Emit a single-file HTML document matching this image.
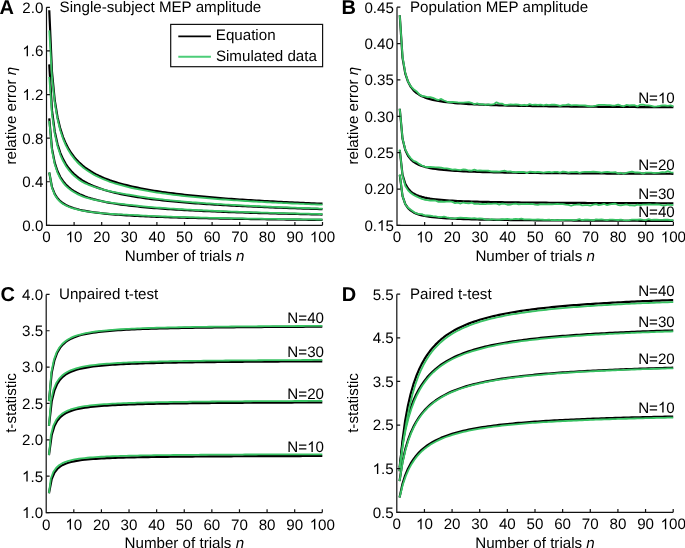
<!DOCTYPE html>
<html><head><meta charset="utf-8"><style>
html,body{margin:0;padding:0;background:#fff;}
body{width:685px;height:548px;position:relative;overflow:hidden;font-family:"Liberation Sans", sans-serif;}
</style></head><body>
<svg width="685" height="548" viewBox="0 0 685 548" style="position:absolute;left:0;top:0;will-change:transform" font-family='"Liberation Sans", sans-serif' font-size="15.15" fill="#000" text-rendering="geometricPrecision">
<defs><path id="one" d="M763,0 L583,0 L583,1147 Q518,1085 412,1023 Q306,961 222,930 L222,1104 Q381,1179 492,1280 Q603,1381 641,1466 L763,1466 Z"/></defs>
<rect width="685" height="548" fill="#fff"/>
<path d="M49.26,10.29 L52.02,72.43 L54.78,100.49 L57.54,117.22 L60.3,128.64 L63.06,137.06 L65.82,143.61 L68.58,148.89 L71.34,153.26 L74.1,156.96 L76.86,160.15 L79.62,162.92 L82.38,165.37 L85.14,167.55 L87.9,169.51 L90.66,171.29 L93.42,172.9 L96.18,174.38 L98.94,175.74 L101.7,176.99 L104.46,178.16 L107.22,179.24 L109.98,180.26 L112.74,181.21 L115.5,182.1 L118.26,182.94 L121.02,183.73 L123.78,184.48 L126.54,185.19 L129.3,185.87 L132.06,186.51 L134.82,187.12 L137.58,187.7 L140.34,188.26 L143.1,188.8 L145.86,189.31 L148.62,189.8 L151.38,190.27 L154.14,190.72 L156.9,191.16 L159.66,191.58 L162.42,191.98 L165.18,192.37 L167.94,192.75 L170.7,193.11 L173.46,193.46 L176.22,193.81 L178.98,194.14 L181.74,194.46 L184.5,194.77 L187.26,195.07 L190.02,195.36 L192.78,195.64 L195.54,195.92 L198.3,196.19 L201.06,196.45 L203.82,196.71 L206.58,196.95 L209.34,197.2 L212.1,197.43 L214.86,197.66 L217.62,197.89 L220.38,198.1 L223.14,198.32 L225.9,198.53 L228.66,198.73 L231.42,198.93 L234.18,199.13 L236.94,199.32 L239.7,199.5 L242.46,199.69 L245.22,199.86 L247.98,200.04 L250.74,200.21 L253.5,200.38 L256.26,200.54 L259.02,200.71 L261.78,200.86 L264.54,201.02 L267.3,201.17 L270.06,201.32 L272.82,201.47 L275.58,201.61 L278.34,201.75 L281.1,201.89 L283.86,202.03 L286.62,202.16 L289.38,202.3 L292.14,202.43 L294.9,202.55 L297.66,202.68 L300.42,202.8 L303.18,202.93 L305.94,203.04 L308.7,203.16 L311.46,203.28 L314.22,203.39 L316.98,203.5 L319.74,203.62 L322.5,203.72" fill="none" stroke="#000" stroke-width="2.2" stroke-linejoin="round" stroke-linecap="butt"/>
<path d="M49.26,64.36 L52.02,110.66 L54.78,131.71 L57.54,144.25 L60.3,152.82 L63.06,159.14 L65.82,164.05 L68.58,168.01 L71.34,171.29 L74.1,174.06 L76.86,176.45 L79.62,178.53 L82.38,180.37 L85.14,182 L87.9,183.47 L90.66,184.8 L93.42,186.01 L96.18,187.12 L98.94,188.14 L101.7,189.08 L104.46,189.96 L107.22,190.77 L109.98,191.53 L112.74,192.24 L115.5,192.91 L118.26,193.54 L121.02,194.14 L123.78,194.7 L126.54,195.23 L129.3,195.74 L132.06,196.22 L134.82,196.68 L137.58,197.12 L140.34,197.53 L143.1,197.93 L145.86,198.32 L148.62,198.69 L151.38,199.04 L154.14,199.38 L156.9,199.71 L159.66,200.02 L162.42,200.32 L165.18,200.62 L167.94,200.9 L170.7,201.17 L173.46,201.44 L176.22,201.69 L178.98,201.94 L181.74,202.18 L184.5,202.41 L187.26,202.64 L190.02,202.86 L192.78,203.07 L195.54,203.28 L198.3,203.48 L201.06,203.68 L203.82,203.87 L206.58,204.05 L209.34,204.23 L212.1,204.41 L214.86,204.58 L217.62,204.75 L220.38,204.92 L223.14,205.08 L225.9,205.23 L228.66,205.39 L231.42,205.54 L234.18,205.68 L236.94,205.82 L239.7,205.96 L242.46,206.1 L245.22,206.24 L247.98,206.37 L250.74,206.5 L253.5,206.62 L256.26,206.75 L259.02,206.87 L261.78,206.99 L264.54,207.1 L267.3,207.22 L270.06,207.33 L272.82,207.44 L275.58,207.55 L278.34,207.65 L281.1,207.76 L283.86,207.86 L286.62,207.96 L289.38,208.06 L292.14,208.16 L294.9,208.25 L297.66,208.35 L300.42,208.44 L303.18,208.53 L305.94,208.62 L308.7,208.71 L311.46,208.8 L314.22,208.88 L316.98,208.97 L319.74,209.05 L322.5,209.13" fill="none" stroke="#000" stroke-width="2.2" stroke-linejoin="round" stroke-linecap="butt"/>
<path d="M49.26,118.42 L52.02,148.89 L54.78,162.92 L57.54,171.29 L60.3,176.99 L63.06,181.21 L65.82,184.48 L68.58,187.12 L71.34,189.31 L74.1,191.16 L76.86,192.75 L79.62,194.14 L82.38,195.36 L85.14,196.45 L87.9,197.43 L90.66,198.32 L93.42,199.13 L96.18,199.86 L98.94,200.54 L101.7,201.17 L104.46,201.75 L107.22,202.3 L109.98,202.8 L112.74,203.28 L115.5,203.72 L118.26,204.14 L121.02,204.54 L123.78,204.92 L126.54,205.27 L129.3,205.61 L132.06,205.93 L134.82,206.24 L137.58,206.53 L140.34,206.81 L143.1,207.07 L145.86,207.33 L148.62,207.57 L151.38,207.81 L154.14,208.04 L156.9,208.25 L159.66,208.46 L162.42,208.67 L165.18,208.86 L167.94,209.05 L170.7,209.23 L173.46,209.41 L176.22,209.58 L178.98,209.74 L181.74,209.9 L184.5,210.06 L187.26,210.21 L190.02,210.36 L192.78,210.5 L195.54,210.64 L198.3,210.77 L201.06,210.9 L203.82,211.03 L206.58,211.15 L209.34,211.27 L212.1,211.39 L214.86,211.51 L217.62,211.62 L220.38,211.73 L223.14,211.83 L225.9,211.94 L228.66,212.04 L231.42,212.14 L234.18,212.24 L236.94,212.33 L239.7,212.43 L242.46,212.52 L245.22,212.61 L247.98,212.69 L250.74,212.78 L253.5,212.86 L256.26,212.95 L259.02,213.03 L261.78,213.11 L264.54,213.18 L267.3,213.26 L270.06,213.34 L272.82,213.41 L275.58,213.48 L278.34,213.55 L281.1,213.62 L283.86,213.69 L286.62,213.76 L289.38,213.82 L292.14,213.89 L294.9,213.95 L297.66,214.02 L300.42,214.08 L303.18,214.14 L305.94,214.2 L308.7,214.26 L311.46,214.31 L314.22,214.37 L316.98,214.43 L319.74,214.48 L322.5,214.54" fill="none" stroke="#000" stroke-width="2.2" stroke-linejoin="round" stroke-linecap="butt"/>
<path d="M49.26,172.49 L52.02,187.12 L54.78,194.14 L57.54,198.32 L60.3,201.17 L63.06,203.28 L65.82,204.92 L68.58,206.24 L71.34,207.33 L74.1,208.25 L76.86,209.05 L79.62,209.74 L82.38,210.36 L85.14,210.9 L87.9,211.39 L90.66,211.83 L93.42,212.24 L96.18,212.61 L98.94,212.95 L101.7,213.26 L104.46,213.55 L107.22,213.82 L109.98,214.08 L112.74,214.31 L115.5,214.54 L118.26,214.75 L121.02,214.95 L123.78,215.13 L126.54,215.31 L129.3,215.48 L132.06,215.64 L134.82,215.79 L137.58,215.94 L140.34,216.08 L143.1,216.21 L145.86,216.34 L148.62,216.46 L151.38,216.58 L154.14,216.69 L156.9,216.8 L159.66,216.91 L162.42,217.01 L165.18,217.11 L167.94,217.2 L170.7,217.29 L173.46,217.38 L176.22,217.46 L178.98,217.55 L181.74,217.63 L184.5,217.7 L187.26,217.78 L190.02,217.85 L192.78,217.92 L195.54,217.99 L198.3,218.06 L201.06,218.13 L203.82,218.19 L206.58,218.25 L209.34,218.31 L212.1,218.37 L214.86,218.43 L217.62,218.48 L220.38,218.54 L223.14,218.59 L225.9,218.64 L228.66,218.7 L231.42,218.75 L234.18,218.79 L236.94,218.84 L239.7,218.89 L242.46,218.93 L245.22,218.98 L247.98,219.02 L250.74,219.07 L253.5,219.11 L256.26,219.15 L259.02,219.19 L261.78,219.23 L264.54,219.27 L267.3,219.31 L270.06,219.34 L272.82,219.38 L275.58,219.42 L278.34,219.45 L281.1,219.49 L283.86,219.52 L286.62,219.55 L289.38,219.59 L292.14,219.62 L294.9,219.65 L297.66,219.68 L300.42,219.71 L303.18,219.74 L305.94,219.77 L308.7,219.8 L311.46,219.83 L314.22,219.86 L316.98,219.89 L319.74,219.92 L322.5,219.94" fill="none" stroke="#000" stroke-width="2.2" stroke-linejoin="round" stroke-linecap="butt"/>
<path d="M49.26,30.39 L52.02,77.43 L54.78,102.99 L57.54,119.33 L60.3,130.44 L63.06,138.81 L65.82,145.32 L68.58,150.56 L71.34,154.9 L74.1,158.56 L76.86,161.74 L79.62,164.51 L82.38,166.95 L85.14,169.12 L87.9,171.08 L90.66,172.84 L93.42,174.45 L96.18,175.92 L98.94,177.28 L101.7,178.53 L104.46,179.69 L107.22,180.77 L109.98,181.78 L112.74,182.73 L115.5,183.62 L118.26,184.45 L121.02,185.24 L123.78,185.99 L126.54,186.7 L129.3,187.37 L132.06,188 L134.82,188.59 L137.58,189.17 L140.34,189.71 L143.1,190.23 L145.86,190.73 L148.62,191.21 L151.38,191.67 L154.14,192.11 L156.9,192.54 L159.66,192.95 L162.42,193.34 L165.18,193.72 L167.94,194.09 L170.7,194.44 L173.46,194.79 L176.22,195.12 L178.98,195.44 L181.74,195.75 L184.5,196.05 L187.26,196.35 L190.02,196.63 L192.78,196.91 L195.54,197.18 L198.3,197.44 L201.06,197.69 L203.82,197.94 L206.58,198.18 L209.34,198.41 L212.1,198.64 L214.86,198.87 L217.62,199.08 L220.38,199.3 L223.14,199.5 L225.9,199.71 L228.66,199.9 L231.42,200.1 L234.18,200.29 L236.94,200.47 L239.7,200.65 L242.46,200.83 L245.22,201 L247.98,201.17 L250.74,201.34 L253.5,201.5 L256.26,201.66 L259.02,201.81 L261.78,201.97 L264.54,202.12 L267.3,202.26 L270.06,202.41 L272.82,202.55 L275.58,202.69 L278.34,202.83 L281.1,202.96 L283.86,203.09 L286.62,203.22 L289.38,203.35 L292.14,203.48 L294.9,203.6 L297.66,203.72 L300.42,203.84 L303.18,203.96 L305.94,204.07 L308.7,204.18 L311.46,204.3 L314.22,204.41 L316.98,204.51 L319.74,204.62 L322.5,204.72" fill="none" stroke="#38c263" stroke-width="1.8" stroke-linejoin="round" stroke-linecap="butt"/>
<path d="M49.26,76.86 L52.02,114.66 L54.78,133.91 L57.54,146.34 L60.3,154.82 L63.06,161.06 L65.82,165.91 L68.58,169.81 L71.34,173.04 L74.1,175.77 L76.86,178.12 L79.62,180.16 L82.38,181.97 L85.14,183.33 L87.9,184.54 L90.66,185.63 L93.42,186.62 L96.18,187.51 L98.94,188.33 L101.7,189.08 L104.46,189.84 L107.22,190.54 L109.98,191.19 L112.74,191.79 L115.5,192.36 L118.26,192.89 L121.02,193.4 L123.78,193.87 L126.54,194.32 L129.3,194.74 L132.06,195.23 L134.82,195.71 L137.58,196.16 L140.34,196.59 L143.1,197 L145.86,197.39 L148.62,197.77 L151.38,198.14 L154.14,198.49 L156.9,198.82 L159.66,199.15 L162.42,199.46 L165.18,199.77 L167.94,200.06 L170.7,200.34 L173.46,200.61 L176.22,200.88 L178.98,201.13 L181.74,201.38 L184.5,201.62 L187.26,201.86 L190.02,202.09 L192.78,202.31 L195.54,202.52 L198.3,202.73 L201.06,202.94 L203.82,203.13 L206.58,203.33 L209.34,203.52 L212.1,203.7 L214.86,203.88 L217.62,204.05 L220.38,204.22 L223.14,204.39 L225.9,204.55 L228.66,204.71 L231.42,204.87 L234.18,205.02 L236.94,205.17 L239.7,205.32 L242.46,205.46 L245.22,205.6 L247.98,205.74 L250.74,205.87 L253.5,206 L256.26,206.13 L259.02,206.26 L261.78,206.38 L264.54,206.5 L267.3,206.62 L270.06,206.74 L272.82,206.86 L275.58,206.97 L278.34,207.08 L281.1,207.19 L283.86,207.3 L286.62,207.4 L289.38,207.51 L292.14,207.61 L294.9,207.71 L297.66,207.81 L300.42,207.91 L303.18,208 L305.94,208.1 L308.7,208.19 L311.46,208.28 L314.22,208.37 L316.98,208.46 L319.74,208.54 L322.5,208.63" fill="none" stroke="#38c263" stroke-width="1.8" stroke-linejoin="round" stroke-linecap="butt"/>
<path d="M49.26,120.92 L52.02,150.89 L54.78,164.42 L57.54,172.79 L60.3,178.49 L63.06,182.61 L65.82,185.81 L68.58,188.38 L71.34,190.5 L74.1,192.29 L76.86,193.84 L79.62,195.18 L82.38,196.36 L85.14,197.28 L87.9,198.1 L90.66,198.84 L93.42,199.5 L96.18,200.11 L98.94,200.66 L101.7,201.17 L104.46,201.66 L107.22,202.11 L109.98,202.53 L112.74,202.92 L115.5,203.28 L118.26,203.63 L121.02,203.95 L123.78,204.25 L126.54,204.54 L129.3,204.81 L132.06,205.14 L134.82,205.45 L137.58,205.75 L140.34,206.04 L143.1,206.31 L145.86,206.57 L148.62,206.83 L151.38,207.07 L154.14,207.3 L156.9,207.53 L159.66,207.74 L162.42,207.95 L165.18,208.15 L167.94,208.34 L170.7,208.53 L173.46,208.71 L176.22,208.89 L178.98,209.06 L181.74,209.23 L184.5,209.39 L187.26,209.54 L190.02,209.69 L192.78,209.84 L195.54,209.98 L198.3,210.12 L201.06,210.26 L203.82,210.39 L206.58,210.52 L209.34,210.64 L212.1,210.76 L214.86,210.88 L217.62,211 L220.38,211.11 L223.14,211.22 L225.9,211.33 L228.66,211.44 L231.42,211.54 L234.18,211.64 L236.94,211.74 L239.7,211.84 L242.46,211.93 L245.22,212.03 L247.98,212.12 L250.74,212.21 L253.5,212.29 L256.26,212.38 L259.02,212.46 L261.78,212.55 L264.54,212.63 L267.3,212.71 L270.06,212.78 L272.82,212.86 L275.58,212.93 L278.34,213.01 L281.1,213.08 L283.86,213.15 L286.62,213.22 L289.38,213.29 L292.14,213.36 L294.9,213.43 L297.66,213.49 L300.42,213.56 L303.18,213.62 L305.94,213.68 L308.7,213.74 L311.46,213.8 L314.22,213.86 L316.98,213.92 L319.74,213.98 L322.5,214.04" fill="none" stroke="#38c263" stroke-width="1.8" stroke-linejoin="round" stroke-linecap="butt"/>
<path d="M49.26,172.29 L52.02,188.02 L54.78,194.94 L57.54,199.12 L60.3,201.97 L63.06,203.97 L65.82,205.52 L68.58,206.76 L71.34,207.79 L74.1,208.65 L76.86,209.39 L79.62,210.04 L82.38,210.6 L85.14,211.11 L87.9,211.56 L90.66,211.96 L93.42,212.33 L96.18,212.67 L98.94,212.98 L101.7,213.26 L104.46,213.47 L107.22,213.66 L109.98,213.84 L112.74,214 L115.5,214.15 L118.26,214.29 L121.02,214.43 L123.78,214.55 L126.54,214.67 L129.3,214.78 L132.06,214.95 L134.82,215.11 L137.58,215.26 L140.34,215.41 L143.1,215.55 L145.86,215.68 L148.62,215.81 L151.38,215.94 L154.14,216.06 L156.9,216.17 L159.66,216.28 L162.42,216.39 L165.18,216.5 L167.94,216.59 L170.7,216.69 L173.46,216.79 L176.22,216.88 L178.98,216.96 L181.74,217.05 L184.5,217.13 L187.26,217.21 L190.02,217.29 L192.78,217.37 L195.54,217.44 L198.3,217.51 L201.06,217.58 L203.82,217.65 L206.58,217.72 L209.34,217.78 L212.1,217.84 L214.86,217.9 L217.62,217.96 L220.38,218.02 L223.14,218.08 L225.9,218.14 L228.66,218.19 L231.42,218.25 L234.18,218.3 L236.94,218.35 L239.7,218.4 L242.46,218.45 L245.22,218.5 L247.98,218.54 L250.74,218.59 L253.5,218.64 L256.26,218.68 L259.02,218.72 L261.78,218.77 L264.54,218.81 L267.3,218.85 L270.06,218.89 L272.82,218.93 L275.58,218.97 L278.34,219.01 L281.1,219.05 L283.86,219.08 L286.62,219.12 L289.38,219.15 L292.14,219.19 L294.9,219.22 L297.66,219.26 L300.42,219.29 L303.18,219.33 L305.94,219.36 L308.7,219.39 L311.46,219.42 L314.22,219.45 L316.98,219.48 L319.74,219.51 L322.5,219.54" fill="none" stroke="#38c263" stroke-width="1.8" stroke-linejoin="round" stroke-linecap="butt"/>
<path d="M46.5,7.35 L46.5,225.35 L322.5,225.35" fill="none" stroke="#111" stroke-width="1.2"/>
<path d="M46.5,225.35 L49.9,225.35 M46.5,181.75 L49.9,181.75 M46.5,138.15 L49.9,138.15 M46.5,94.55 L49.9,94.55 M46.5,50.95 L49.9,50.95 M46.5,7.35 L49.9,7.35 M74.1,225.35 L74.1,221.95 M101.7,225.35 L101.7,221.95 M129.3,225.35 L129.3,221.95 M156.9,225.35 L156.9,221.95 M184.5,225.35 L184.5,221.95 M212.1,225.35 L212.1,221.95 M239.7,225.35 L239.7,221.95 M267.3,225.35 L267.3,221.95 M294.9,225.35 L294.9,221.95 M322.5,225.35 L322.5,221.95 " fill="none" stroke="#111" stroke-width="1.2"/>
<text x="22.34" y="230.7">0.0</text>
<text x="22.34" y="187.1">0.4</text>
<text x="22.34" y="143.5">0.8</text>
<text x="22.34" y="99.9">&#8199;.2</text>
<use href="#one" transform="translate(22.34,99.9) scale(0.007397,-0.007397)"/>
<text x="22.34" y="56.3">&#8199;.6</text>
<use href="#one" transform="translate(22.34,56.3) scale(0.007397,-0.007397)"/>
<text x="22.34" y="12.7">2.0</text>
<text x="42.29" y="242.35">0</text>
<text x="65.67" y="242.35">&#8199;0</text>
<use href="#one" transform="translate(65.67,242.35) scale(0.007397,-0.007397)"/>
<text x="93.27" y="242.35">20</text>
<text x="120.87" y="242.35">30</text>
<text x="148.47" y="242.35">40</text>
<text x="176.07" y="242.35">50</text>
<text x="203.67" y="242.35">60</text>
<text x="231.27" y="242.35">70</text>
<text x="258.87" y="242.35">80</text>
<text x="286.47" y="242.35">90</text>
<text x="309.86" y="242.35">&#8199;00</text>
<use href="#one" transform="translate(309.86,242.35) scale(0.007397,-0.007397)"/>
<path d="M399.76,15.22 L402.53,57.83 L405.29,73.57 L408.06,81.81 L410.82,86.89 L413.58,90.33 L416.35,92.82 L419.11,94.7 L421.88,96.18 L424.64,97.36 L427.4,98.34 L430.17,99.15 L432.93,99.85 L435.7,100.44 L438.46,100.96 L441.22,101.41 L443.99,101.81 L446.75,102.17 L449.52,102.49 L452.28,102.78 L455.04,103.04 L457.81,103.28 L460.57,103.49 L463.34,103.69 L466.1,103.88 L468.86,104.05 L471.63,104.2 L474.39,104.35 L477.16,104.49 L479.92,104.61 L482.68,104.73 L485.45,104.84 L488.21,104.95 L490.98,105.05 L493.74,105.14 L496.5,105.23 L499.27,105.31 L502.03,105.39 L504.8,105.46 L507.56,105.53 L510.32,105.6 L513.09,105.67 L515.85,105.73 L518.62,105.79 L521.38,105.84 L524.14,105.9 L526.91,105.95 L529.67,106 L532.44,106.04 L535.2,106.09 L537.96,106.13 L540.73,106.18 L543.49,106.22 L546.26,106.25 L549.02,106.29 L551.78,106.33 L554.55,106.36 L557.31,106.4 L560.08,106.43 L562.84,106.46 L565.6,106.49 L568.37,106.52 L571.13,106.55 L573.9,106.58 L576.66,106.6 L579.42,106.63 L582.19,106.65 L584.95,106.68 L587.72,106.7 L590.48,106.73 L593.24,106.75 L596.01,106.77 L598.77,106.79 L601.54,106.81 L604.3,106.83 L607.06,106.85 L609.83,106.87 L612.59,106.89 L615.36,106.91 L618.12,106.92 L620.88,106.94 L623.65,106.96 L626.41,106.98 L629.18,106.99 L631.94,107.01 L634.7,107.02 L637.47,107.04 L640.23,107.05 L643,107.07 L645.76,107.08 L648.52,107.09 L651.29,107.11 L654.05,107.12 L656.82,107.13 L659.58,107.15 L662.34,107.16 L665.11,107.17 L667.87,107.18 L670.64,107.19 L673.4,107.2" fill="none" stroke="#000" stroke-width="2.2" stroke-linejoin="round" stroke-linecap="butt"/>
<path d="M399.76,108.73 L402.53,138.86 L405.29,150 L408.06,155.82 L410.82,159.41 L413.58,161.84 L416.35,163.6 L419.11,164.94 L421.88,165.98 L424.64,166.82 L427.4,167.51 L430.17,168.09 L432.93,168.58 L435.7,169 L438.46,169.36 L441.22,169.68 L443.99,169.97 L446.75,170.22 L449.52,170.44 L452.28,170.65 L455.04,170.83 L457.81,171 L460.57,171.15 L463.34,171.3 L466.1,171.42 L468.86,171.54 L471.63,171.66 L474.39,171.76 L477.16,171.85 L479.92,171.94 L482.68,172.03 L485.45,172.11 L488.21,172.18 L490.98,172.25 L493.74,172.32 L496.5,172.38 L499.27,172.44 L502.03,172.49 L504.8,172.55 L507.56,172.6 L510.32,172.64 L513.09,172.69 L515.85,172.73 L518.62,172.78 L521.38,172.81 L524.14,172.85 L526.91,172.89 L529.67,172.92 L532.44,172.96 L535.2,172.99 L537.96,173.02 L540.73,173.05 L543.49,173.08 L546.26,173.11 L549.02,173.13 L551.78,173.16 L554.55,173.18 L557.31,173.21 L560.08,173.23 L562.84,173.25 L565.6,173.27 L568.37,173.29 L571.13,173.31 L573.9,173.33 L576.66,173.35 L579.42,173.37 L582.19,173.39 L584.95,173.41 L587.72,173.42 L590.48,173.44 L593.24,173.46 L596.01,173.47 L598.77,173.49 L601.54,173.5 L604.3,173.51 L607.06,173.53 L609.83,173.54 L612.59,173.55 L615.36,173.57 L618.12,173.58 L620.88,173.59 L623.65,173.6 L626.41,173.62 L629.18,173.63 L631.94,173.64 L634.7,173.65 L637.47,173.66 L640.23,173.67 L643,173.68 L645.76,173.69 L648.52,173.7 L651.29,173.71 L654.05,173.72 L656.82,173.73 L659.58,173.74 L662.34,173.74 L665.11,173.75 L667.87,173.76 L670.64,173.77 L673.4,173.78" fill="none" stroke="#000" stroke-width="2.2" stroke-linejoin="round" stroke-linecap="butt"/>
<path d="M399.76,150.16 L402.53,174.76 L405.29,183.85 L408.06,188.61 L410.82,191.54 L413.58,193.53 L416.35,194.96 L419.11,196.05 L421.88,196.9 L424.64,197.59 L427.4,198.15 L430.17,198.62 L432.93,199.02 L435.7,199.37 L438.46,199.67 L441.22,199.93 L443.99,200.16 L446.75,200.36 L449.52,200.55 L452.28,200.72 L455.04,200.87 L457.81,201 L460.57,201.13 L463.34,201.24 L466.1,201.35 L468.86,201.45 L471.63,201.54 L474.39,201.62 L477.16,201.7 L479.92,201.77 L482.68,201.84 L485.45,201.91 L488.21,201.97 L490.98,202.02 L493.74,202.08 L496.5,202.13 L499.27,202.18 L502.03,202.22 L504.8,202.27 L507.56,202.31 L510.32,202.35 L513.09,202.38 L515.85,202.42 L518.62,202.45 L521.38,202.48 L524.14,202.52 L526.91,202.55 L529.67,202.57 L532.44,202.6 L535.2,202.63 L537.96,202.65 L540.73,202.68 L543.49,202.7 L546.26,202.72 L549.02,202.74 L551.78,202.76 L554.55,202.78 L557.31,202.8 L560.08,202.82 L562.84,202.84 L565.6,202.86 L568.37,202.88 L571.13,202.89 L573.9,202.91 L576.66,202.92 L579.42,202.94 L582.19,202.95 L584.95,202.97 L587.72,202.98 L590.48,202.99 L593.24,203.01 L596.01,203.02 L598.77,203.03 L601.54,203.04 L604.3,203.06 L607.06,203.07 L609.83,203.08 L612.59,203.09 L615.36,203.1 L618.12,203.11 L620.88,203.12 L623.65,203.13 L626.41,203.14 L629.18,203.15 L631.94,203.16 L634.7,203.17 L637.47,203.17 L640.23,203.18 L643,203.19 L645.76,203.2 L648.52,203.21 L651.29,203.21 L654.05,203.22 L656.82,203.23 L659.58,203.24 L662.34,203.24 L665.11,203.25 L667.87,203.26 L670.64,203.26 L673.4,203.27" fill="none" stroke="#000" stroke-width="2.2" stroke-linejoin="round" stroke-linecap="butt"/>
<path d="M399.76,174.86 L402.53,196.16 L405.29,204.04 L408.06,208.16 L410.82,210.69 L413.58,212.41 L416.35,213.66 L419.11,214.6 L421.88,215.34 L424.64,215.93 L427.4,216.42 L430.17,216.83 L432.93,217.17 L435.7,217.47 L438.46,217.73 L441.22,217.96 L443.99,218.16 L446.75,218.34 L449.52,218.5 L452.28,218.64 L455.04,218.77 L457.81,218.89 L460.57,219 L463.34,219.1 L466.1,219.19 L468.86,219.27 L471.63,219.35 L474.39,219.42 L477.16,219.49 L479.92,219.56 L482.68,219.62 L485.45,219.67 L488.21,219.72 L490.98,219.77 L493.74,219.82 L496.5,219.86 L499.27,219.9 L502.03,219.94 L504.8,219.98 L507.56,220.02 L510.32,220.05 L513.09,220.08 L515.85,220.11 L518.62,220.14 L521.38,220.17 L524.14,220.2 L526.91,220.22 L529.67,220.25 L532.44,220.27 L535.2,220.29 L537.96,220.32 L540.73,220.34 L543.49,220.36 L546.26,220.38 L549.02,220.4 L551.78,220.41 L554.55,220.43 L557.31,220.45 L560.08,220.46 L562.84,220.48 L565.6,220.5 L568.37,220.51 L571.13,220.52 L573.9,220.54 L576.66,220.55 L579.42,220.56 L582.19,220.58 L584.95,220.59 L587.72,220.6 L590.48,220.61 L593.24,220.62 L596.01,220.63 L598.77,220.65 L601.54,220.66 L604.3,220.67 L607.06,220.68 L609.83,220.69 L612.59,220.69 L615.36,220.7 L618.12,220.71 L620.88,220.72 L623.65,220.73 L626.41,220.74 L629.18,220.75 L631.94,220.75 L634.7,220.76 L637.47,220.77 L640.23,220.78 L643,220.78 L645.76,220.79 L648.52,220.8 L651.29,220.8 L654.05,220.81 L656.82,220.82 L659.58,220.82 L662.34,220.83 L665.11,220.83 L667.87,220.84 L670.64,220.85 L673.4,220.85" fill="none" stroke="#000" stroke-width="2.2" stroke-linejoin="round" stroke-linecap="butt"/>
<path d="M399.76,15.25 L402.53,56.77 L405.29,72.93 L408.06,81.75 L410.82,86.28 L413.58,89.2 L416.35,91.14 L419.11,94.17 L421.88,96.1 L424.64,96.27 L427.4,97.03 L430.17,97.15 L432.93,97.93 L435.7,99.18 L438.46,100.03 L441.22,98.94 L443.99,100.47 L446.75,101.51 L449.52,102.27 L452.28,102 L455.04,102.03 L457.81,102.47 L460.57,102.6 L463.34,102.57 L466.1,102.43 L468.86,102.25 L471.63,102.8 L474.39,104.25 L477.16,103.39 L479.92,104.41 L482.68,104.11 L485.45,104.83 L488.21,104.29 L490.98,104.62 L493.74,104.22 L496.5,102.33 L499.27,103.68 L502.03,103.68 L504.8,104.98 L507.56,104.88 L510.32,104.34 L513.09,104.63 L515.85,104.5 L518.62,104.65 L521.38,105.38 L524.14,104.76 L526.91,105.37 L529.67,104.06 L532.44,105.01 L535.2,104.68 L537.96,104.99 L540.73,104.57 L543.49,105.35 L546.26,104.72 L549.02,105.18 L551.78,104.55 L554.55,104.73 L557.31,105.09 L560.08,105.78 L562.84,105.14 L565.6,105.1 L568.37,104.43 L571.13,105.39 L573.9,105.2 L576.66,105.17 L579.42,105.31 L582.19,105.42 L584.95,105.49 L587.72,105.99 L590.48,106.41 L593.24,106.22 L596.01,105.59 L598.77,104.85 L601.54,104.91 L604.3,104.9 L607.06,105.07 L609.83,105.19 L612.59,105.54 L615.36,105.34 L618.12,104.69 L620.88,105.7 L623.65,106.28 L626.41,104.95 L629.18,105.49 L631.94,105.27 L634.7,105.25 L637.47,106.43 L640.23,104.77 L643,104.59 L645.76,105.46 L648.52,105.44 L651.29,105.8 L654.05,106.53 L656.82,106.34 L659.58,106 L662.34,105.46 L665.11,105.51 L667.87,105.92 L670.64,105.31 L673.4,106.34" fill="none" stroke="#38c263" stroke-width="1.8" stroke-linejoin="round" stroke-linecap="butt"/>
<path d="M399.76,108.85 L402.53,138.54 L405.29,149.53 L408.06,154.63 L410.82,158.34 L413.58,160.95 L416.35,161.86 L419.11,163.89 L421.88,165.52 L424.64,166.61 L427.4,167.01 L430.17,166.98 L432.93,167.16 L435.7,167.36 L438.46,167.33 L441.22,167.57 L443.99,168.28 L446.75,168.39 L449.52,168.85 L452.28,169.67 L455.04,169.46 L457.81,169.82 L460.57,170.16 L463.34,169.4 L466.1,169.75 L468.86,170.5 L471.63,170.65 L474.39,169.7 L477.16,170.57 L479.92,170.5 L482.68,170.57 L485.45,170.7 L488.21,170.75 L490.98,171.29 L493.74,171.51 L496.5,171.49 L499.27,171.61 L502.03,171.17 L504.8,170.73 L507.56,171.68 L510.32,171.41 L513.09,172.02 L515.85,172.13 L518.62,171.99 L521.38,171.82 L524.14,172.02 L526.91,173.08 L529.67,171.7 L532.44,171.98 L535.2,172.25 L537.96,171.79 L540.73,172.21 L543.49,172.74 L546.26,172.1 L549.02,171.92 L551.78,172.42 L554.55,171.88 L557.31,171.91 L560.08,172.6 L562.84,171.58 L565.6,171.9 L568.37,172.64 L571.13,172.21 L573.9,172.22 L576.66,171.86 L579.42,172.77 L582.19,172.04 L584.95,171.84 L587.72,171.9 L590.48,171.96 L593.24,171.68 L596.01,171.86 L598.77,172.19 L601.54,172.74 L604.3,172.08 L607.06,171.92 L609.83,172.17 L612.59,172.33 L615.36,172.15 L618.12,173.52 L620.88,172.76 L623.65,173.74 L626.41,172.89 L629.18,172.23 L631.94,171.64 L634.7,172.48 L637.47,172.39 L640.23,172.58 L643,173.61 L645.76,172.67 L648.52,172.68 L651.29,172.65 L654.05,173.09 L656.82,172.86 L659.58,172.72 L662.34,172.15 L665.11,172.4 L667.87,171.07 L670.64,172.34 L673.4,172.72" fill="none" stroke="#38c263" stroke-width="1.8" stroke-linejoin="round" stroke-linecap="butt"/>
<path d="M399.76,149.51 L402.53,175.75 L405.29,186 L408.06,190.33 L410.82,192.98 L413.58,194.99 L416.35,196.39 L419.11,197.74 L421.88,198.89 L424.64,199.75 L427.4,200.14 L430.17,200.62 L432.93,200.44 L435.7,200.72 L438.46,201.82 L441.22,201.5 L443.99,201.85 L446.75,201.59 L449.52,201.44 L452.28,201.91 L455.04,203.19 L457.81,202.65 L460.57,203.52 L463.34,202.51 L466.1,203.21 L468.86,203.3 L471.63,202.51 L474.39,203.86 L477.16,203.59 L479.92,204.03 L482.68,203.98 L485.45,204.13 L488.21,203.57 L490.98,203.84 L493.74,203.68 L496.5,203.53 L499.27,204.54 L502.03,203.55 L504.8,203.96 L507.56,204.75 L510.32,204.61 L513.09,203.91 L515.85,203.63 L518.62,204.3 L521.38,204.21 L524.14,204.13 L526.91,203.77 L529.67,204.18 L532.44,203.85 L535.2,204.58 L537.96,204.78 L540.73,204.24 L543.49,204.05 L546.26,204.33 L549.02,204.16 L551.78,204.29 L554.55,204.1 L557.31,203.87 L560.08,204.08 L562.84,204.04 L565.6,204.57 L568.37,204.84 L571.13,205.75 L573.9,204.84 L576.66,204.71 L579.42,204.45 L582.19,205.43 L584.95,205.17 L587.72,205.12 L590.48,205.66 L593.24,204.66 L596.01,204.17 L598.77,205.12 L601.54,204.7 L604.3,203.99 L607.06,205.05 L609.83,204.45 L612.59,203.98 L615.36,203.7 L618.12,205.05 L620.88,205.39 L623.65,204.95 L626.41,204.36 L629.18,205.25 L631.94,205.35 L634.7,205.55 L637.47,204.63 L640.23,205.06 L643,204.71 L645.76,204.56 L648.52,204.28 L651.29,204.52 L654.05,204.65 L656.82,204.33 L659.58,204.53 L662.34,205.38 L665.11,205.36 L667.87,204.71 L670.64,204.83 L673.4,205.09" fill="none" stroke="#38c263" stroke-width="1.8" stroke-linejoin="round" stroke-linecap="butt"/>
<path d="M399.76,174.35 L402.53,196.09 L405.29,204.26 L408.06,207.79 L410.82,209.78 L413.58,211.64 L416.35,213.4 L419.11,214.17 L421.88,214.15 L424.64,215.5 L427.4,215.37 L430.17,215.75 L432.93,216.1 L435.7,216.3 L438.46,217 L441.22,217.22 L443.99,216.72 L446.75,217.45 L449.52,217.82 L452.28,218.39 L455.04,218.33 L457.81,217.95 L460.57,217.69 L463.34,217.88 L466.1,218.01 L468.86,218.13 L471.63,218.31 L474.39,218.17 L477.16,218.59 L479.92,218.33 L482.68,218.69 L485.45,219.4 L488.21,219.57 L490.98,219.27 L493.74,219.29 L496.5,219.59 L499.27,219.56 L502.03,219.24 L504.8,219.07 L507.56,218.87 L510.32,219.44 L513.09,219.21 L515.85,218.91 L518.62,219.07 L521.38,218.64 L524.14,219.31 L526.91,219.39 L529.67,219.37 L532.44,219.59 L535.2,219.55 L537.96,219.45 L540.73,219.53 L543.49,219.73 L546.26,219.8 L549.02,219.7 L551.78,220.2 L554.55,219.77 L557.31,220.09 L560.08,219.91 L562.84,220.15 L565.6,219.82 L568.37,219.89 L571.13,219.88 L573.9,220.06 L576.66,219.82 L579.42,219.22 L582.19,220.23 L584.95,219.76 L587.72,219.71 L590.48,219.92 L593.24,220.31 L596.01,219.44 L598.77,219.64 L601.54,219.43 L604.3,219.85 L607.06,220.14 L609.83,219.59 L612.59,219.53 L615.36,219.88 L618.12,219.98 L620.88,219.72 L623.65,220.14 L626.41,220.31 L629.18,220.09 L631.94,219.64 L634.7,219.55 L637.47,219.75 L640.23,219.42 L643,219.84 L645.76,220.11 L648.52,219.2 L651.29,219.9 L654.05,219.76 L656.82,219.73 L659.58,219.88 L662.34,219.9 L665.11,219.74 L667.87,219.74 L670.64,220.14 L673.4,220.08" fill="none" stroke="#38c263" stroke-width="1.8" stroke-linejoin="round" stroke-linecap="butt"/>
<path d="M397,7.2 L397,225.4 L673.4,225.4" fill="none" stroke="#111" stroke-width="1.2"/>
<path d="M397,225.4 L400.4,225.4 M397,189.03 L400.4,189.03 M397,152.67 L400.4,152.67 M397,116.3 L400.4,116.3 M397,79.93 L400.4,79.93 M397,43.57 L400.4,43.57 M397,7.2 L400.4,7.2 M424.64,225.4 L424.64,222 M452.28,225.4 L452.28,222 M479.92,225.4 L479.92,222 M507.56,225.4 L507.56,222 M535.2,225.4 L535.2,222 M562.84,225.4 L562.84,222 M590.48,225.4 L590.48,222 M618.12,225.4 L618.12,222 M645.76,225.4 L645.76,222 M673.4,225.4 L673.4,222 " fill="none" stroke="#111" stroke-width="1.2"/>
<text x="364.41" y="230.75">0.&#8199;5</text>
<use href="#one" transform="translate(377.05,230.75) scale(0.007397,-0.007397)"/>
<text x="364.41" y="194.38">0.20</text>
<text x="364.41" y="158.02">0.25</text>
<text x="364.41" y="121.65">0.30</text>
<text x="364.41" y="85.28">0.35</text>
<text x="364.41" y="48.92">0.40</text>
<text x="364.41" y="12.55">0.45</text>
<text x="392.79" y="242.4">0</text>
<text x="416.21" y="242.4">&#8199;0</text>
<use href="#one" transform="translate(416.21,242.4) scale(0.007397,-0.007397)"/>
<text x="443.85" y="242.4">20</text>
<text x="471.49" y="242.4">30</text>
<text x="499.13" y="242.4">40</text>
<text x="526.77" y="242.4">50</text>
<text x="554.41" y="242.4">60</text>
<text x="582.05" y="242.4">70</text>
<text x="609.69" y="242.4">80</text>
<text x="637.33" y="242.4">90</text>
<text x="660.76" y="242.4">&#8199;00</text>
<use href="#one" transform="translate(660.76,242.4) scale(0.007397,-0.007397)"/>
<path d="M48.96,493.23 L51.72,479.05 L54.48,472.64 L57.24,468.97 L60.01,466.59 L62.77,464.91 L65.53,463.67 L68.29,462.72 L71.05,461.96 L73.81,461.34 L76.57,460.83 L79.33,460.4 L82.09,460.03 L84.85,459.71 L87.62,459.43 L90.38,459.19 L93.14,458.97 L95.9,458.78 L98.66,458.6 L101.42,458.45 L104.18,458.3 L106.94,458.17 L109.7,458.05 L112.46,457.94 L115.23,457.84 L117.99,457.75 L120.75,457.66 L123.51,457.58 L126.27,457.5 L129.03,457.43 L131.79,457.37 L134.55,457.31 L137.31,457.25 L140.07,457.19 L142.84,457.14 L145.6,457.09 L148.36,457.05 L151.12,457 L153.88,456.96 L156.64,456.92 L159.4,456.88 L162.16,456.85 L164.92,456.81 L167.68,456.78 L170.45,456.75 L173.21,456.72 L175.97,456.69 L178.73,456.66 L181.49,456.63 L184.25,456.61 L187.01,456.58 L189.77,456.56 L192.53,456.54 L195.29,456.51 L198.06,456.49 L200.82,456.47 L203.58,456.45 L206.34,456.43 L209.1,456.42 L211.86,456.4 L214.62,456.38 L217.38,456.36 L220.14,456.35 L222.9,456.33 L225.67,456.32 L228.43,456.3 L231.19,456.29 L233.95,456.27 L236.71,456.26 L239.47,456.25 L242.23,456.24 L244.99,456.22 L247.75,456.21 L250.51,456.2 L253.27,456.19 L256.04,456.18 L258.8,456.17 L261.56,456.16 L264.32,456.15 L267.08,456.14 L269.84,456.13 L272.6,456.12 L275.36,456.11 L278.12,456.1 L280.89,456.09 L283.65,456.08 L286.41,456.07 L289.17,456.06 L291.93,456.05 L294.69,456.05 L297.45,456.04 L300.21,456.03 L302.97,456.02 L305.73,456.02 L308.5,456.01 L311.26,456 L314.02,456 L316.78,455.99 L319.54,455.98 L322.3,455.98" fill="none" stroke="#000" stroke-width="2.2" stroke-linejoin="round" stroke-linecap="butt"/>
<path d="M48.96,455.1 L51.72,435.05 L54.48,425.99 L57.24,420.8 L60.01,417.43 L62.77,415.06 L65.53,413.31 L68.29,411.96 L71.05,410.88 L73.81,410.01 L76.57,409.29 L79.33,408.68 L82.09,408.16 L84.85,407.71 L87.62,407.31 L90.38,406.97 L93.14,406.66 L95.9,406.38 L98.66,406.14 L101.42,405.91 L104.18,405.71 L106.94,405.53 L109.7,405.36 L112.46,405.2 L115.23,405.06 L117.99,404.93 L120.75,404.81 L123.51,404.69 L126.27,404.58 L129.03,404.48 L131.79,404.39 L134.55,404.3 L137.31,404.22 L140.07,404.14 L142.84,404.07 L145.6,404 L148.36,403.93 L151.12,403.87 L153.88,403.81 L156.64,403.76 L159.4,403.7 L162.16,403.65 L164.92,403.6 L167.68,403.56 L170.45,403.51 L173.21,403.47 L175.97,403.43 L178.73,403.39 L181.49,403.35 L184.25,403.31 L187.01,403.28 L189.77,403.25 L192.53,403.21 L195.29,403.18 L198.06,403.15 L200.82,403.12 L203.58,403.1 L206.34,403.07 L209.1,403.04 L211.86,403.02 L214.62,402.99 L217.38,402.97 L220.14,402.95 L222.9,402.93 L225.67,402.9 L228.43,402.88 L231.19,402.86 L233.95,402.84 L236.71,402.83 L239.47,402.81 L242.23,402.79 L244.99,402.77 L247.75,402.75 L250.51,402.74 L253.27,402.72 L256.04,402.71 L258.8,402.69 L261.56,402.68 L264.32,402.66 L267.08,402.65 L269.84,402.63 L272.6,402.62 L275.36,402.61 L278.12,402.59 L280.89,402.58 L283.65,402.57 L286.41,402.56 L289.17,402.55 L291.93,402.53 L294.69,402.52 L297.45,402.51 L300.21,402.5 L302.97,402.49 L305.73,402.48 L308.5,402.47 L311.26,402.46 L314.02,402.45 L316.78,402.44 L319.54,402.43 L322.3,402.42" fill="none" stroke="#000" stroke-width="2.2" stroke-linejoin="round" stroke-linecap="butt"/>
<path d="M48.96,425.85 L51.72,401.3 L54.48,390.19 L57.24,383.83 L60.01,379.7 L62.77,376.81 L65.53,374.66 L68.29,373.01 L71.05,371.69 L73.81,370.62 L76.57,369.74 L79.33,368.99 L82.09,368.35 L84.85,367.8 L87.62,367.32 L90.38,366.89 L93.14,366.52 L95.9,366.18 L98.66,365.88 L101.42,365.61 L104.18,365.36 L106.94,365.13 L109.7,364.93 L112.46,364.74 L115.23,364.56 L117.99,364.4 L120.75,364.25 L123.51,364.11 L126.27,363.98 L129.03,363.85 L131.79,363.74 L134.55,363.63 L137.31,363.53 L140.07,363.44 L142.84,363.35 L145.6,363.26 L148.36,363.18 L151.12,363.1 L153.88,363.03 L156.64,362.96 L159.4,362.9 L162.16,362.83 L164.92,362.77 L167.68,362.72 L170.45,362.66 L173.21,362.61 L175.97,362.56 L178.73,362.51 L181.49,362.47 L184.25,362.42 L187.01,362.38 L189.77,362.34 L192.53,362.3 L195.29,362.26 L198.06,362.22 L200.82,362.19 L203.58,362.16 L206.34,362.12 L209.1,362.09 L211.86,362.06 L214.62,362.03 L217.38,362 L220.14,361.97 L222.9,361.95 L225.67,361.92 L228.43,361.89 L231.19,361.87 L233.95,361.85 L236.71,361.82 L239.47,361.8 L242.23,361.78 L244.99,361.76 L247.75,361.74 L250.51,361.72 L253.27,361.7 L256.04,361.68 L258.8,361.66 L261.56,361.64 L264.32,361.62 L267.08,361.6 L269.84,361.59 L272.6,361.57 L275.36,361.55 L278.12,361.54 L280.89,361.52 L283.65,361.51 L286.41,361.49 L289.17,361.48 L291.93,361.47 L294.69,361.45 L297.45,361.44 L300.21,361.43 L302.97,361.41 L305.73,361.4 L308.5,361.39 L311.26,361.38 L314.02,361.36 L316.78,361.35 L319.54,361.34 L322.3,361.33" fill="none" stroke="#000" stroke-width="2.2" stroke-linejoin="round" stroke-linecap="butt"/>
<path d="M48.96,401.18 L51.72,372.83 L54.48,360.02 L57.24,352.67 L60.01,347.9 L62.77,344.56 L65.53,342.08 L68.29,340.17 L71.05,338.65 L73.81,337.42 L76.57,336.39 L79.33,335.53 L82.09,334.79 L84.85,334.16 L87.62,333.6 L90.38,333.11 L93.14,332.68 L95.9,332.29 L98.66,331.94 L101.42,331.62 L104.18,331.34 L106.94,331.08 L109.7,330.84 L112.46,330.62 L115.23,330.42 L117.99,330.23 L120.75,330.06 L123.51,329.89 L126.27,329.74 L129.03,329.6 L131.79,329.47 L134.55,329.35 L137.31,329.23 L140.07,329.12 L142.84,329.01 L145.6,328.92 L148.36,328.82 L151.12,328.74 L153.88,328.65 L156.64,328.57 L159.4,328.5 L162.16,328.42 L164.92,328.35 L167.68,328.29 L170.45,328.23 L173.21,328.17 L175.97,328.11 L178.73,328.05 L181.49,328 L184.25,327.95 L187.01,327.9 L189.77,327.85 L192.53,327.81 L195.29,327.76 L198.06,327.72 L200.82,327.68 L203.58,327.64 L206.34,327.6 L209.1,327.56 L211.86,327.53 L214.62,327.49 L217.38,327.46 L220.14,327.43 L222.9,327.4 L225.67,327.37 L228.43,327.34 L231.19,327.31 L233.95,327.28 L236.71,327.26 L239.47,327.23 L242.23,327.2 L244.99,327.18 L247.75,327.15 L250.51,327.13 L253.27,327.11 L256.04,327.09 L258.8,327.06 L261.56,327.04 L264.32,327.02 L267.08,327 L269.84,326.98 L272.6,326.96 L275.36,326.95 L278.12,326.93 L280.89,326.91 L283.65,326.89 L286.41,326.88 L289.17,326.86 L291.93,326.84 L294.69,326.83 L297.45,326.81 L300.21,326.8 L302.97,326.78 L305.73,326.77 L308.5,326.75 L311.26,326.74 L314.02,326.73 L316.78,326.71 L319.54,326.7 L322.3,326.69" fill="none" stroke="#000" stroke-width="2.2" stroke-linejoin="round" stroke-linecap="butt"/>
<path d="M48.96,493.23 L50.79,478.8 L53.27,471.98 L56.09,467.92 L59.03,465.26 L61.99,463.43 L64.9,462.1 L67.79,461.1 L70.64,460.31 L73.47,459.68 L76.28,459.15 L79.09,458.72 L81.88,458.34 L84.67,458.02 L87.45,457.74 L90.23,457.49 L93.01,457.28 L95.78,457.08 L98.56,456.91 L101.33,456.75 L104.1,456.6 L106.87,456.47 L109.63,456.35 L112.4,456.24 L115.17,456.14 L117.93,456.05 L120.7,455.96 L123.46,455.88 L126.22,455.81 L128.99,455.73 L131.75,455.67 L134.51,455.61 L137.28,455.55 L140.04,455.49 L142.8,455.44 L145.57,455.39 L148.33,455.35 L151.09,455.3 L153.85,455.26 L156.62,455.22 L159.38,455.18 L162.14,455.15 L164.9,455.11 L167.66,455.08 L170.43,455.05 L173.19,455.02 L175.95,454.99 L178.71,454.96 L181.47,454.93 L184.23,454.91 L187,454.88 L189.76,454.86 L192.52,454.84 L195.28,454.81 L198.04,454.79 L200.8,454.77 L203.57,454.75 L206.33,454.73 L209.09,454.72 L211.85,454.7 L214.61,454.68 L217.37,454.66 L220.13,454.65 L222.89,454.63 L225.66,454.62 L228.42,454.6 L231.18,454.59 L233.94,454.57 L236.7,454.56 L239.46,454.55 L242.22,454.54 L244.98,454.52 L247.75,454.51 L250.51,454.5 L253.27,454.49 L256.03,454.48 L258.79,454.47 L261.55,454.46 L264.31,454.45 L267.07,454.44 L269.84,454.43 L272.6,454.42 L275.36,454.41 L278.12,454.4 L280.88,454.39 L283.64,454.38 L286.4,454.37 L289.16,454.36 L291.92,454.35 L294.69,454.35 L297.45,454.34 L300.21,454.33 L302.97,454.32 L305.73,454.32 L308.49,454.31 L311.25,454.3 L314.01,454.3 L316.77,454.29 L319.54,454.28 L322.3,454.28" fill="none" stroke="#38c263" stroke-width="1.8" stroke-linejoin="round" stroke-linecap="butt"/>
<path d="M48.96,455.1 L50.89,434.9 L53.35,425.55 L56.09,420.05 L58.96,416.42 L61.88,413.88 L64.8,412.01 L67.69,410.59 L70.55,409.47 L73.39,408.57 L76.22,407.83 L79.03,407.21 L81.83,406.68 L84.63,406.22 L87.42,405.83 L90.2,405.48 L92.98,405.17 L95.76,404.89 L98.53,404.64 L101.3,404.42 L104.08,404.22 L106.85,404.03 L109.62,403.86 L112.38,403.71 L115.15,403.56 L117.92,403.43 L120.68,403.31 L123.45,403.19 L126.21,403.08 L128.98,402.99 L131.74,402.89 L134.51,402.8 L137.27,402.72 L140.03,402.64 L142.8,402.57 L145.56,402.5 L148.32,402.43 L151.08,402.37 L153.85,402.31 L156.61,402.26 L159.37,402.2 L162.13,402.15 L164.9,402.1 L167.66,402.06 L170.42,402.01 L173.18,401.97 L175.95,401.93 L178.71,401.89 L181.47,401.85 L184.23,401.81 L186.99,401.78 L189.75,401.75 L192.52,401.71 L195.28,401.68 L198.04,401.65 L200.8,401.62 L203.56,401.6 L206.32,401.57 L209.09,401.54 L211.85,401.52 L214.61,401.49 L217.37,401.47 L220.13,401.45 L222.89,401.43 L225.65,401.4 L228.41,401.38 L231.18,401.36 L233.94,401.34 L236.7,401.33 L239.46,401.31 L242.22,401.29 L244.98,401.27 L247.74,401.25 L250.51,401.24 L253.27,401.22 L256.03,401.21 L258.79,401.19 L261.55,401.18 L264.31,401.16 L267.07,401.15 L269.83,401.13 L272.59,401.12 L275.36,401.11 L278.12,401.09 L280.88,401.08 L283.64,401.07 L286.4,401.06 L289.16,401.05 L291.92,401.03 L294.68,401.02 L297.45,401.01 L300.21,401 L302.97,400.99 L305.73,400.98 L308.49,400.97 L311.25,400.96 L314.01,400.95 L316.77,400.94 L319.53,400.93 L322.3,400.92" fill="none" stroke="#38c263" stroke-width="1.8" stroke-linejoin="round" stroke-linecap="butt"/>
<path d="M48.96,425.85 L50.94,401.17 L53.4,389.85 L56.11,383.23 L58.94,378.87 L61.84,375.79 L64.74,373.51 L67.63,371.78 L70.5,370.41 L73.34,369.3 L76.17,368.39 L78.99,367.63 L81.8,366.98 L84.6,366.42 L87.39,365.94 L90.18,365.51 L92.96,365.13 L95.74,364.79 L98.51,364.49 L101.29,364.21 L104.06,363.96 L106.83,363.74 L109.6,363.53 L112.37,363.34 L115.14,363.16 L117.91,363 L120.67,362.85 L123.44,362.71 L126.2,362.58 L128.97,362.46 L131.73,362.34 L134.5,362.23 L137.26,362.13 L140.03,362.04 L142.79,361.95 L145.55,361.86 L148.32,361.78 L151.08,361.7 L153.84,361.63 L156.61,361.56 L159.37,361.5 L162.13,361.43 L164.89,361.37 L167.66,361.32 L170.42,361.26 L173.18,361.21 L175.94,361.16 L178.7,361.11 L181.47,361.07 L184.23,361.02 L186.99,360.98 L189.75,360.94 L192.51,360.9 L195.28,360.86 L198.04,360.82 L200.8,360.79 L203.56,360.76 L206.32,360.72 L209.08,360.69 L211.84,360.66 L214.61,360.63 L217.37,360.6 L220.13,360.57 L222.89,360.55 L225.65,360.52 L228.41,360.49 L231.17,360.47 L233.94,360.45 L236.7,360.42 L239.46,360.4 L242.22,360.38 L244.98,360.36 L247.74,360.34 L250.5,360.32 L253.27,360.3 L256.03,360.28 L258.79,360.26 L261.55,360.24 L264.31,360.22 L267.07,360.2 L269.83,360.19 L272.59,360.17 L275.35,360.15 L278.12,360.14 L280.88,360.12 L283.64,360.11 L286.4,360.09 L289.16,360.08 L291.92,360.07 L294.68,360.05 L297.44,360.04 L300.21,360.03 L302.97,360.01 L305.73,360 L308.49,359.99 L311.25,359.98 L314.01,359.96 L316.77,359.95 L319.53,359.94 L322.29,359.93" fill="none" stroke="#38c263" stroke-width="1.8" stroke-linejoin="round" stroke-linecap="butt"/>
<path d="M48.96,401.18 L51.27,372.77 L53.86,359.85 L56.58,352.37 L59.37,347.47 L62.19,344.02 L65.03,341.46 L67.87,339.49 L70.69,337.94 L73.51,336.68 L76.31,335.64 L79.11,334.76 L81.9,334.02 L84.69,333.37 L87.47,332.81 L90.24,332.32 L93.02,331.89 L95.79,331.5 L98.56,331.15 L101.33,330.83 L104.1,330.54 L106.87,330.28 L109.64,330.04 L112.4,329.82 L115.17,329.62 L117.93,329.43 L120.7,329.26 L123.46,329.09 L126.23,328.94 L128.99,328.8 L131.75,328.67 L134.52,328.55 L137.28,328.43 L140.04,328.32 L142.81,328.22 L145.57,328.12 L148.33,328.02 L151.09,327.94 L153.86,327.85 L156.62,327.77 L159.38,327.7 L162.14,327.62 L164.9,327.55 L167.67,327.49 L170.43,327.43 L173.19,327.37 L175.95,327.31 L178.71,327.25 L181.47,327.2 L184.24,327.15 L187,327.1 L189.76,327.05 L192.52,327.01 L195.28,326.96 L198.04,326.92 L200.8,326.88 L203.57,326.84 L206.33,326.8 L209.09,326.76 L211.85,326.73 L214.61,326.7 L217.37,326.66 L220.13,326.63 L222.9,326.6 L225.66,326.57 L228.42,326.54 L231.18,326.51 L233.94,326.48 L236.7,326.46 L239.46,326.43 L242.22,326.4 L244.98,326.38 L247.75,326.36 L250.51,326.33 L253.27,326.31 L256.03,326.29 L258.79,326.27 L261.55,326.24 L264.31,326.22 L267.07,326.2 L269.84,326.18 L272.6,326.16 L275.36,326.15 L278.12,326.13 L280.88,326.11 L283.64,326.09 L286.4,326.08 L289.16,326.06 L291.92,326.04 L294.69,326.03 L297.45,326.01 L300.21,326 L302.97,325.98 L305.73,325.97 L308.49,325.95 L311.25,325.94 L314.01,325.93 L316.77,325.91 L319.54,325.9 L322.3,325.89" fill="none" stroke="#38c263" stroke-width="1.8" stroke-linejoin="round" stroke-linecap="butt"/>
<path d="M46.2,294.4 L46.2,512.55 L322.3,512.55" fill="none" stroke="#111" stroke-width="1.2"/>
<path d="M46.2,512.55 L49.6,512.55 M46.2,476.19 L49.6,476.19 M46.2,439.83 L49.6,439.83 M46.2,403.47 L49.6,403.47 M46.2,367.12 L49.6,367.12 M46.2,330.76 L49.6,330.76 M46.2,294.4 L49.6,294.4 M73.81,512.55 L73.81,509.15 M101.42,512.55 L101.42,509.15 M129.03,512.55 L129.03,509.15 M156.64,512.55 L156.64,509.15 M184.25,512.55 L184.25,509.15 M211.86,512.55 L211.86,509.15 M239.47,512.55 L239.47,509.15 M267.08,512.55 L267.08,509.15 M294.69,512.55 L294.69,509.15 M322.3,512.55 L322.3,509.15 " fill="none" stroke="#111" stroke-width="1.2"/>
<text x="22.04" y="517.9">&#8199;.0</text>
<use href="#one" transform="translate(22.04,517.9) scale(0.007397,-0.007397)"/>
<text x="22.04" y="481.54">&#8199;.5</text>
<use href="#one" transform="translate(22.04,481.54) scale(0.007397,-0.007397)"/>
<text x="22.04" y="445.18">2.0</text>
<text x="22.04" y="408.82">2.5</text>
<text x="22.04" y="372.47">3.0</text>
<text x="22.04" y="336.11">3.5</text>
<text x="22.04" y="299.75">4.0</text>
<text x="41.99" y="529.55">0</text>
<text x="65.38" y="529.55">&#8199;0</text>
<use href="#one" transform="translate(65.38,529.55) scale(0.007397,-0.007397)"/>
<text x="92.99" y="529.55">20</text>
<text x="120.6" y="529.55">30</text>
<text x="148.21" y="529.55">40</text>
<text x="175.82" y="529.55">50</text>
<text x="203.43" y="529.55">60</text>
<text x="231.04" y="529.55">70</text>
<text x="258.65" y="529.55">80</text>
<text x="286.26" y="529.55">90</text>
<text x="309.66" y="529.55">&#8199;00</text>
<use href="#one" transform="translate(309.66,529.55) scale(0.007397,-0.007397)"/>
<path d="M399.56,497.48 L402.33,484.45 L405.09,475.61 L407.86,468.95 L410.62,463.66 L413.38,459.33 L416.15,455.7 L418.91,452.6 L421.68,449.91 L424.44,447.56 L427.2,445.49 L429.97,443.64 L432.73,441.98 L435.5,440.48 L438.26,439.13 L441.02,437.89 L443.79,436.75 L446.55,435.71 L449.32,434.75 L452.08,433.86 L454.84,433.04 L457.61,432.27 L460.37,431.55 L463.14,430.88 L465.9,430.25 L468.66,429.66 L471.43,429.1 L474.19,428.58 L476.96,428.08 L479.72,427.62 L482.48,427.17 L485.25,426.75 L488.01,426.35 L490.78,425.97 L493.54,425.6 L496.3,425.26 L499.07,424.93 L501.83,424.61 L504.6,424.31 L507.36,424.02 L510.12,423.74 L512.89,423.47 L515.65,423.22 L518.42,422.97 L521.18,422.74 L523.94,422.51 L526.71,422.29 L529.47,422.08 L532.24,421.87 L535,421.68 L537.76,421.49 L540.53,421.3 L543.29,421.13 L546.06,420.96 L548.82,420.79 L551.58,420.63 L554.35,420.47 L557.11,420.32 L559.88,420.17 L562.64,420.03 L565.4,419.89 L568.17,419.76 L570.93,419.63 L573.7,419.5 L576.46,419.38 L579.22,419.26 L581.99,419.14 L584.75,419.03 L587.52,418.92 L590.28,418.81 L593.04,418.71 L595.81,418.6 L598.57,418.5 L601.34,418.41 L604.1,418.31 L606.86,418.22 L609.63,418.13 L612.39,418.04 L615.16,417.95 L617.92,417.87 L620.68,417.79 L623.45,417.71 L626.21,417.63 L628.98,417.55 L631.74,417.47 L634.5,417.4 L637.27,417.33 L640.03,417.26 L642.8,417.19 L645.56,417.12 L648.32,417.05 L651.09,416.99 L653.85,416.92 L656.62,416.86 L659.38,416.8 L662.14,416.74 L664.91,416.68 L667.67,416.62 L670.44,416.57 L673.2,416.51" fill="none" stroke="#000" stroke-width="2.2" stroke-linejoin="round" stroke-linecap="butt"/>
<path d="M399.56,481.2 L402.33,462.51 L405.09,449.89 L407.86,440.44 L410.62,432.96 L413.38,426.86 L416.15,421.75 L418.91,417.4 L421.68,413.65 L424.44,410.37 L427.2,407.47 L429.97,404.9 L432.73,402.6 L435.5,400.53 L438.26,398.64 L441.02,396.93 L443.79,395.37 L446.55,393.93 L449.32,392.6 L452.08,391.38 L454.84,390.24 L457.61,389.19 L460.37,388.2 L463.14,387.28 L465.9,386.42 L468.66,385.61 L471.43,384.84 L474.19,384.12 L476.96,383.45 L479.72,382.8 L482.48,382.2 L485.25,381.62 L488.01,381.07 L490.78,380.55 L493.54,380.06 L496.3,379.58 L499.07,379.13 L501.83,378.7 L504.6,378.29 L507.36,377.89 L510.12,377.51 L512.89,377.15 L515.65,376.8 L518.42,376.47 L521.18,376.15 L523.94,375.84 L526.71,375.54 L529.47,375.25 L532.24,374.97 L535,374.71 L537.76,374.45 L540.53,374.2 L543.29,373.96 L546.06,373.72 L548.82,373.5 L551.58,373.28 L554.35,373.07 L557.11,372.86 L559.88,372.66 L562.64,372.47 L565.4,372.28 L568.17,372.1 L570.93,371.92 L573.7,371.75 L576.46,371.58 L579.22,371.42 L581.99,371.26 L584.75,371.11 L587.52,370.96 L590.28,370.81 L593.04,370.67 L595.81,370.53 L598.57,370.4 L601.34,370.27 L604.1,370.14 L606.86,370.01 L609.63,369.89 L612.39,369.77 L615.16,369.65 L617.92,369.54 L620.68,369.43 L623.45,369.32 L626.21,369.21 L628.98,369.11 L631.74,369 L634.5,368.9 L637.27,368.81 L640.03,368.71 L642.8,368.62 L645.56,368.52 L648.32,368.43 L651.09,368.35 L653.85,368.26 L656.62,368.17 L659.38,368.09 L662.14,368.01 L664.91,367.93 L667.67,367.85 L670.44,367.78 L673.2,367.7" fill="none" stroke="#000" stroke-width="2.2" stroke-linejoin="round" stroke-linecap="butt"/>
<path d="M399.56,467.75 L402.33,444.51 L405.09,428.93 L407.86,417.32 L410.62,408.18 L413.38,400.74 L416.15,394.55 L418.91,389.29 L421.68,384.76 L424.44,380.81 L427.2,377.34 L429.97,374.26 L432.73,371.51 L435.5,369.03 L438.26,366.79 L441.02,364.75 L443.79,362.89 L446.55,361.18 L449.32,359.61 L452.08,358.16 L454.84,356.81 L457.61,355.56 L460.37,354.4 L463.14,353.31 L465.9,352.29 L468.66,351.34 L471.43,350.44 L474.19,349.59 L476.96,348.79 L479.72,348.04 L482.48,347.33 L485.25,346.65 L488.01,346.01 L490.78,345.39 L493.54,344.81 L496.3,344.26 L499.07,343.73 L501.83,343.22 L504.6,342.74 L507.36,342.28 L510.12,341.84 L512.89,341.41 L515.65,341 L518.42,340.61 L521.18,340.24 L523.94,339.87 L526.71,339.53 L529.47,339.19 L532.24,338.87 L535,338.55 L537.76,338.25 L540.53,337.96 L543.29,337.68 L546.06,337.41 L548.82,337.15 L551.58,336.89 L554.35,336.64 L557.11,336.4 L559.88,336.17 L562.64,335.95 L565.4,335.73 L568.17,335.52 L570.93,335.31 L573.7,335.11 L576.46,334.92 L579.22,334.73 L581.99,334.54 L584.75,334.36 L587.52,334.19 L590.28,334.02 L593.04,333.85 L595.81,333.69 L598.57,333.54 L601.34,333.38 L604.1,333.23 L606.86,333.09 L609.63,332.94 L612.39,332.81 L615.16,332.67 L617.92,332.54 L620.68,332.41 L623.45,332.28 L626.21,332.16 L628.98,332.04 L631.74,331.92 L634.5,331.8 L637.27,331.69 L640.03,331.58 L642.8,331.47 L645.56,331.36 L648.32,331.26 L651.09,331.15 L653.85,331.05 L656.62,330.96 L659.38,330.86 L662.14,330.76 L664.91,330.67 L667.67,330.58 L670.44,330.49 L673.2,330.4" fill="none" stroke="#000" stroke-width="2.2" stroke-linejoin="round" stroke-linecap="butt"/>
<path d="M399.56,471.23 L402.33,441.64 L405.09,421.27 L407.86,406.04 L410.62,394.11 L413.38,384.48 L416.15,376.53 L418.91,369.83 L421.68,364.11 L424.44,359.17 L427.2,354.85 L429.97,351.05 L432.73,347.67 L435.5,344.65 L438.26,341.93 L441.02,339.47 L443.79,337.24 L446.55,335.2 L449.32,333.33 L452.08,331.61 L454.84,330.02 L457.61,328.55 L460.37,327.18 L463.14,325.91 L465.9,324.72 L468.66,323.61 L471.43,322.57 L474.19,321.59 L476.96,320.67 L479.72,319.8 L482.48,318.98 L485.25,318.2 L488.01,317.47 L490.78,316.77 L493.54,316.11 L496.3,315.48 L499.07,314.87 L501.83,314.3 L504.6,313.75 L507.36,313.23 L510.12,312.73 L512.89,312.25 L515.65,311.79 L518.42,311.35 L521.18,310.93 L523.94,310.52 L526.71,310.13 L529.47,309.75 L532.24,309.39 L535,309.04 L537.76,308.71 L540.53,308.38 L543.29,308.07 L546.06,307.76 L548.82,307.47 L551.58,307.19 L554.35,306.91 L557.11,306.65 L559.88,306.39 L562.64,306.14 L565.4,305.9 L568.17,305.66 L570.93,305.44 L573.7,305.21 L576.46,305 L579.22,304.79 L581.99,304.59 L584.75,304.39 L587.52,304.2 L590.28,304.01 L593.04,303.83 L595.81,303.65 L598.57,303.48 L601.34,303.31 L604.1,303.14 L606.86,302.98 L609.63,302.83 L612.39,302.67 L615.16,302.52 L617.92,302.38 L620.68,302.24 L623.45,302.1 L626.21,301.96 L628.98,301.83 L631.74,301.7 L634.5,301.57 L637.27,301.45 L640.03,301.33 L642.8,301.21 L645.56,301.09 L648.32,300.98 L651.09,300.87 L653.85,300.76 L656.62,300.65 L659.38,300.54 L662.14,300.44 L664.91,300.34 L667.67,300.24 L670.44,300.14 L673.2,300.05" fill="none" stroke="#000" stroke-width="2.2" stroke-linejoin="round" stroke-linecap="butt"/>
<path d="M399.56,497.48 L402.85,484.58 L405.85,475.88 L408.72,469.35 L411.51,464.17 L414.26,459.94 L416.98,456.38 L419.7,453.35 L422.41,450.72 L425.13,448.42 L427.84,446.38 L430.56,444.57 L433.28,442.94 L436,441.46 L438.73,440.12 L441.46,438.9 L444.19,437.78 L446.93,436.75 L449.67,435.8 L452.41,434.91 L455.15,434.09 L457.89,433.33 L460.64,432.62 L463.39,431.95 L466.14,431.33 L468.89,430.74 L471.64,430.18 L474.39,429.66 L477.15,429.17 L479.9,428.7 L482.65,428.26 L485.41,427.84 L488.17,427.44 L490.92,427.06 L493.68,426.7 L496.44,426.35 L499.2,426.02 L501.95,425.7 L504.71,425.4 L507.47,425.11 L510.23,424.84 L512.99,424.57 L515.75,424.31 L518.51,424.07 L521.27,423.83 L524.03,423.61 L526.79,423.39 L529.55,423.18 L532.32,422.97 L535.08,422.78 L537.84,422.59 L540.6,422.4 L543.36,422.22 L546.12,422.05 L548.88,421.89 L551.65,421.73 L554.41,421.57 L557.17,421.42 L559.93,421.27 L562.7,421.13 L565.46,420.99 L568.22,420.86 L570.98,420.73 L573.75,420.6 L576.51,420.48 L579.27,420.36 L582.03,420.24 L584.8,420.13 L587.56,420.02 L590.32,419.91 L593.09,419.81 L595.85,419.7 L598.61,419.6 L601.37,419.51 L604.14,419.41 L606.9,419.32 L609.66,419.23 L612.43,419.14 L615.19,419.05 L617.95,418.97 L620.72,418.89 L623.48,418.81 L626.24,418.73 L629.01,418.65 L631.77,418.57 L634.53,418.5 L637.3,418.43 L640.06,418.36 L642.82,418.29 L645.59,418.22 L648.35,418.15 L651.11,418.09 L653.88,418.02 L656.64,417.96 L659.4,417.9 L662.17,417.84 L664.93,417.78 L667.69,417.72 L670.46,417.67 L673.22,417.61" fill="none" stroke="#38c263" stroke-width="1.8" stroke-linejoin="round" stroke-linecap="butt"/>
<path d="M399.56,481.2 L402.62,462.56 L405.52,450 L408.35,440.6 L411.14,433.17 L413.9,427.11 L416.66,422.05 L419.4,417.74 L422.15,414.02 L424.89,410.77 L427.63,407.9 L430.36,405.35 L433.1,403.07 L435.85,401.01 L438.59,399.15 L441.33,397.45 L444.07,395.89 L446.82,394.47 L449.57,393.15 L452.32,391.93 L455.07,390.8 L457.82,389.75 L460.57,388.77 L463.32,387.85 L466.07,386.99 L468.83,386.18 L471.58,385.42 L474.34,384.71 L477.1,384.03 L479.85,383.39 L482.61,382.78 L485.37,382.21 L488.13,381.66 L490.88,381.14 L493.64,380.65 L496.4,380.17 L499.16,379.72 L501.92,379.29 L504.68,378.88 L507.44,378.49 L510.2,378.11 L512.96,377.75 L515.73,377.4 L518.49,377.06 L521.25,376.74 L524.01,376.43 L526.77,376.13 L529.53,375.85 L532.29,375.57 L535.06,375.3 L537.82,375.04 L540.58,374.8 L543.34,374.55 L546.11,374.32 L548.87,374.1 L551.63,373.88 L554.39,373.67 L557.16,373.46 L559.92,373.26 L562.68,373.07 L565.44,372.88 L568.21,372.7 L570.97,372.52 L573.73,372.35 L576.5,372.18 L579.26,372.02 L582.02,371.86 L584.78,371.71 L587.55,371.56 L590.31,371.41 L593.07,371.27 L595.84,371.13 L598.6,371 L601.36,370.86 L604.13,370.74 L606.89,370.61 L609.65,370.49 L612.42,370.37 L615.18,370.25 L617.94,370.14 L620.71,370.03 L623.47,369.92 L626.23,369.81 L629,369.71 L631.76,369.6 L634.53,369.5 L637.29,369.41 L640.05,369.31 L642.82,369.22 L645.58,369.12 L648.34,369.03 L651.11,368.95 L653.87,368.86 L656.63,368.77 L659.4,368.69 L662.16,368.61 L664.93,368.53 L667.69,368.45 L670.45,368.37 L673.22,368.3" fill="none" stroke="#38c263" stroke-width="1.8" stroke-linejoin="round" stroke-linecap="butt"/>
<path d="M399.56,467.75 L402.81,444.58 L405.81,429.08 L408.69,417.54 L411.5,408.47 L414.28,401.11 L417.03,394.97 L419.77,389.78 L422.51,385.3 L425.24,381.41 L427.97,377.98 L430.69,374.95 L433.42,372.23 L436.15,369.79 L438.87,367.58 L441.6,365.57 L444.33,363.73 L447.06,362.04 L449.8,360.49 L452.53,359.05 L455.27,357.72 L458.01,356.48 L460.75,355.32 L463.49,354.25 L466.24,353.23 L468.98,352.29 L471.73,351.39 L474.48,350.55 L477.23,349.76 L479.98,349.01 L482.73,348.3 L485.48,347.62 L488.23,346.98 L490.99,346.37 L493.74,345.79 L496.5,345.24 L499.25,344.71 L502.01,344.21 L504.76,343.73 L507.52,343.27 L510.28,342.82 L513.04,342.4 L515.8,341.99 L518.55,341.6 L521.31,341.23 L524.07,340.87 L526.83,340.52 L529.59,340.18 L532.35,339.86 L535.11,339.55 L537.87,339.25 L540.63,338.96 L543.39,338.68 L546.15,338.4 L548.91,338.14 L551.67,337.89 L554.44,337.64 L557.2,337.4 L559.96,337.17 L562.72,336.94 L565.48,336.73 L568.24,336.51 L571.01,336.31 L573.77,336.11 L576.53,335.91 L579.29,335.73 L582.05,335.54 L584.82,335.36 L587.58,335.19 L590.34,335.02 L593.1,334.85 L595.87,334.69 L598.63,334.53 L601.39,334.38 L604.15,334.23 L606.92,334.09 L609.68,333.94 L612.44,333.8 L615.2,333.67 L617.97,333.54 L620.73,333.41 L623.49,333.28 L626.26,333.16 L629.02,333.03 L631.78,332.92 L634.55,332.8 L637.31,332.69 L640.07,332.58 L642.83,332.47 L645.6,332.36 L648.36,332.26 L651.12,332.15 L653.89,332.05 L656.65,331.95 L659.41,331.86 L662.18,331.76 L664.94,331.67 L667.7,331.58 L670.47,331.49 L673.23,331.4" fill="none" stroke="#38c263" stroke-width="1.8" stroke-linejoin="round" stroke-linecap="butt"/>
<path d="M399.56,471.23 L403.3,441.75 L406.55,421.49 L409.55,406.38 L412.42,394.57 L415.22,385.06 L417.98,377.22 L420.72,370.64 L423.44,365.03 L426.15,360.19 L428.86,355.98 L431.55,352.27 L434.25,348.98 L436.94,346.04 L439.63,343.39 L442.32,341 L445.01,338.82 L447.71,336.83 L450.41,335.01 L453.11,333.32 L455.81,331.77 L458.52,330.33 L461.23,328.99 L463.95,327.74 L466.67,326.57 L469.39,325.48 L472.11,324.45 L474.84,323.48 L477.57,322.57 L480.3,321.71 L483.04,320.9 L485.78,320.13 L488.51,319.4 L491.25,318.71 L494,318.05 L496.74,317.43 L499.48,316.83 L502.23,316.26 L504.98,315.72 L507.72,315.2 L510.47,314.7 L513.22,314.22 L515.97,313.77 L518.72,313.33 L521.48,312.91 L524.23,312.5 L526.98,312.11 L529.74,311.74 L532.49,311.38 L535.25,311.03 L538,310.69 L540.76,310.37 L543.51,310.05 L546.27,309.75 L549.03,309.46 L551.78,309.18 L554.54,308.9 L557.3,308.64 L560.06,308.38 L562.82,308.13 L565.58,307.89 L568.33,307.66 L571.09,307.43 L573.85,307.21 L576.61,306.99 L579.37,306.78 L582.13,306.58 L584.89,306.38 L587.65,306.19 L590.41,306 L593.17,305.82 L595.93,305.65 L598.7,305.47 L601.46,305.3 L604.22,305.14 L606.98,304.98 L609.74,304.82 L612.5,304.67 L615.26,304.52 L618.02,304.38 L620.79,304.23 L623.55,304.1 L626.31,303.96 L629.07,303.83 L631.83,303.7 L634.59,303.57 L637.36,303.45 L640.12,303.32 L642.88,303.21 L645.64,303.09 L648.41,302.98 L651.17,302.86 L653.93,302.75 L656.69,302.65 L659.46,302.54 L662.22,302.44 L664.98,302.34 L667.74,302.24 L670.51,302.14 L673.27,302.05" fill="none" stroke="#38c263" stroke-width="1.8" stroke-linejoin="round" stroke-linecap="butt"/>
<path d="M396.8,294.2 L396.8,512.3 L673.2,512.3" fill="none" stroke="#111" stroke-width="1.2"/>
<path d="M396.8,512.3 L400.2,512.3 M396.8,468.68 L400.2,468.68 M396.8,425.06 L400.2,425.06 M396.8,381.44 L400.2,381.44 M396.8,337.82 L400.2,337.82 M396.8,294.2 L400.2,294.2 M424.44,512.3 L424.44,508.9 M452.08,512.3 L452.08,508.9 M479.72,512.3 L479.72,508.9 M507.36,512.3 L507.36,508.9 M535,512.3 L535,508.9 M562.64,512.3 L562.64,508.9 M590.28,512.3 L590.28,508.9 M617.92,512.3 L617.92,508.9 M645.56,512.3 L645.56,508.9 M673.2,512.3 L673.2,508.9 " fill="none" stroke="#111" stroke-width="1.2"/>
<text x="372.64" y="517.65">0.5</text>
<text x="372.64" y="474.03">&#8199;.5</text>
<use href="#one" transform="translate(372.64,474.03) scale(0.007397,-0.007397)"/>
<text x="372.64" y="430.41">2.5</text>
<text x="372.64" y="386.79">3.5</text>
<text x="372.64" y="343.17">4.5</text>
<text x="372.64" y="299.55">5.5</text>
<text x="392.59" y="529.3">0</text>
<text x="416.01" y="529.3">&#8199;0</text>
<use href="#one" transform="translate(416.01,529.3) scale(0.007397,-0.007397)"/>
<text x="443.65" y="529.3">20</text>
<text x="471.29" y="529.3">30</text>
<text x="498.93" y="529.3">40</text>
<text x="526.57" y="529.3">50</text>
<text x="554.21" y="529.3">60</text>
<text x="581.85" y="529.3">70</text>
<text x="609.49" y="529.3">80</text>
<text x="637.13" y="529.3">90</text>
<text x="660.56" y="529.3">&#8199;00</text>
<use href="#one" transform="translate(660.56,529.3) scale(0.007397,-0.007397)"/>
<text x="-0.5" y="13.6" text-anchor="start" font-weight="bold" font-size="20">A</text>
<text x="341.5" y="13.7" text-anchor="start" font-weight="bold" font-size="20">B</text>
<text x="0.6" y="300.8" text-anchor="start" font-weight="bold" font-size="20">C</text>
<text x="341.7" y="300.5" text-anchor="start" font-weight="bold" font-size="20">D</text>
<text x="59.6" y="11.5" text-anchor="start" >Single-subject MEP amplitude</text>
<text x="410.0" y="11.5" text-anchor="start" >Population MEP amplitude</text>
<text x="59.0" y="298.7" text-anchor="start" >Unpaired t-test</text>
<text x="410.0" y="298.7" text-anchor="start" >Paired t-test</text>
<text x="184.6" y="260.5" text-anchor="middle" >Number of trials <tspan font-style="italic">n</tspan></text>
<text x="535.2" y="260.5" text-anchor="middle" >Number of trials <tspan font-style="italic">n</tspan></text>
<text x="184.3" y="547.6" text-anchor="middle" >Number of trials <tspan font-style="italic">n</tspan></text>
<text x="535.0" y="547.6" text-anchor="middle" >Number of trials <tspan font-style="italic">n</tspan></text>
<text transform="translate(16.2,115.7) rotate(-90)" text-anchor="middle">relative error <tspan font-style="italic">η</tspan></text>
<text transform="translate(358.0,115.7) rotate(-90)" text-anchor="middle">relative error <tspan font-style="italic">η</tspan></text>
<text transform="translate(16.4,403.0) rotate(-90)" text-anchor="middle">t-statistic</text>
<text transform="translate(357.7,403.0) rotate(-90)" text-anchor="middle">t-statistic</text>
<text x="638.16" y="103.3">N=&#8199;0</text>
<use href="#one" transform="translate(657.95,103.3) scale(0.007397,-0.007397)"/>
<text x="638.16" y="169.88">N=20</text>
<text x="638.16" y="199.37">N=30</text>
<text x="638.16" y="216.95">N=40</text>
<text x="287.36" y="452.08">N=&#8199;0</text>
<use href="#one" transform="translate(307.15,452.08) scale(0.007397,-0.007397)"/>
<text x="287.36" y="398.52">N=20</text>
<text x="287.36" y="357.43">N=30</text>
<text x="287.36" y="322.79">N=40</text>
<text x="638.16" y="412.61">N=&#8199;0</text>
<use href="#one" transform="translate(657.95,412.61) scale(0.007397,-0.007397)"/>
<text x="638.16" y="363.8">N=20</text>
<text x="638.16" y="326.5">N=30</text>
<text x="638.16" y="296.15">N=40</text>
<rect x="170.7" y="24.4" width="151.9" height="42.3" fill="#fff" stroke="#111" stroke-width="1.2"/>
<path d="M178.3,36.4 L210.9,36.4" stroke="#000" stroke-width="1.6"/>
<path d="M178.3,56.7 L210.9,56.7" stroke="#4ccd78" stroke-width="1.9"/>
<text x="215.8" y="40.3" text-anchor="start" >Equation</text>
<text x="215.9" y="60.5" text-anchor="start" >Simulated data</text>
</svg>
</body></html>
